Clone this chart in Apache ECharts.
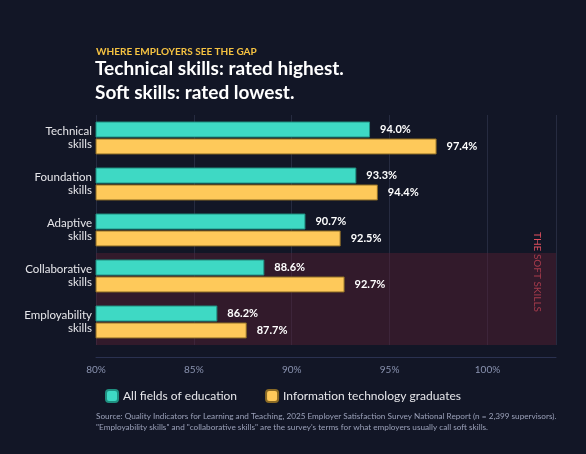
<!DOCTYPE html>
<html>
<head>
<meta charset="utf-8">
<script src="https://cdn.jsdelivr.net/npm/echarts@6/dist/echarts.min.js"></script>
<style>html,body{margin:0;background:#121626;}#c{width:586px;height:454px;}</style>
</head>
<body>
<div id="c"></div>
<script>
var categories = ['Technical\nskills', 'Foundation\nskills', 'Adaptive\nskills', 'Collaborative\nskills', 'Employability\nskills'];
var allFields = [94.0, 93.3, 90.7, 88.6, 86.2];
var itGrads = [97.4, 94.4, 92.5, 92.7, 87.7];
var xTicks = [80, 85, 90, 95, 100];

var myChart = echarts.init(document.getElementById('c'));
var font = 'Lato, "Open Sans", sans-serif';

myChart.setOption({
	backgroundColor: '#121626',
	textStyle: { fontFamily: font },
	animation: false,
	title: [
		{ text: 'WHERE EMPLOYERS SEE THE GAP', left: 91, top: 42, textStyle: { color: '#f5c242', fontSize: 10, fontWeight: 'bold', fontFamily: font } },
		{ text: 'Technical skills: rated highest.\nSoft skills: rated lowest.', left: 90, top: 52, textStyle: { color: '#ffffff', fontSize: 19, fontWeight: 'bold', lineHeight: 24, fontFamily: font } }
	],
	legend: {
		bottom: 46, left: 100, itemWidth: 12, itemHeight: 12, itemGap: 28,
		textStyle: { color: '#e6e6ea', fontSize: 12 },
		data: ['All fields of education', 'Information technology graduates']
	},
	grid: { left: 96, right: 30, top: 115, bottom: 109 },
	xAxis: {
		type: 'value', min: 80, max: 103.5, interval: 5, offset: 12,
		axisLine: { show: true, lineStyle: { color: '#2a3150' } },
		axisTick: { show: false },
		axisLabel: { color: '#8a93b0', fontSize: 10, formatter: function (v) { return xTicks.indexOf(v) >= 0 ? v + '%' : ''; } },
		splitLine: { lineStyle: { color: '#262b40' } }
	},
	yAxis: {
		type: 'category', inverse: true, data: categories,
		axisLine: { show: false }, axisTick: { show: false },
		axisLabel: { color: '#e6e6ea', fontSize: 11.5, lineHeight: 13, margin: 4 }
	},
	series: [
		{
			name: 'All fields of education', type: 'bar', data: allFields, barWidth: 16, barGap: '6%',
			itemStyle: { color: '#3ed9c4', borderColor: '#1f8f80', borderWidth: 1 },
			label: { show: true, position: 'right', distance: 10, color: '#ffffff', fontSize: 11, fontWeight: 'bold', formatter: function (p) { return p.value.toFixed(1) + '%'; } },
			markArea: {
				silent: true,
				itemStyle: { color: 'rgba(90,30,50,0.45)' },
				data: [[{ yAxis: 'Collaborative\nskills', x: 96 }, { yAxis: 'Employability\nskills', x: 556 }]]
			}
		},
		{
			name: 'Information technology graduates', type: 'bar', data: itGrads, barWidth: 16,
			itemStyle: { color: '#fec95a', borderColor: '#8a6a25', borderWidth: 1 },
			label: { show: true, position: 'right', distance: 10, color: '#ffffff', fontSize: 11, fontWeight: 'bold', formatter: function (p) { return p.value.toFixed(1) + '%'; } }
		}
	],
	graphic: [
		{ type: 'text', x: 537, y: 272, rotation: -Math.PI / 2, style: { text: 'THE SOFT SKILLS', fill: '#e0505f', fontSize: 10, fontFamily: font, align: 'center', verticalAlign: 'middle' } },
		{ type: 'text', left: 96, top: 411, style: { text: 'Source: Quality Indicators for Learning and Teaching, 2025 Employer Satisfaction Survey National Report (n = 2,399 supervisors).\n"Employability skills" and "collaborative skills" are the survey\'s terms for what employers usually call soft skills.', fill: '#9aa0b8', fontSize: 8.2, lineHeight: 11, fontFamily: font } }
	]
});
</script>
</body>
</html>
